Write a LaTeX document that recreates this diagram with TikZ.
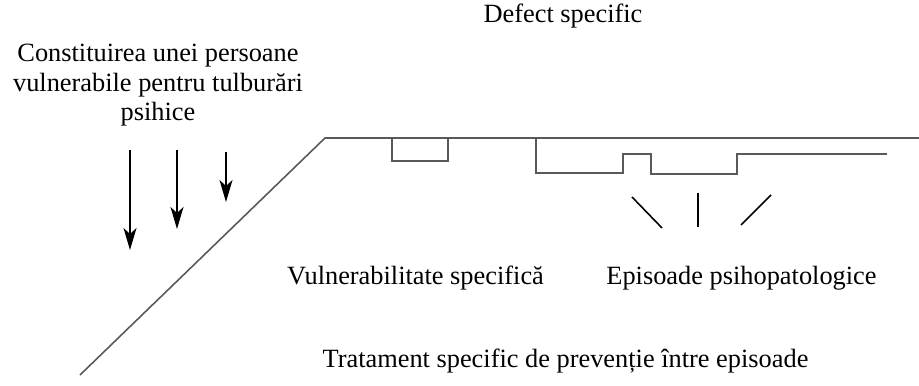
\documentclass[tikz,border=0pt]{standalone}
\usepackage{fontspec}
\setmainfont{Liberation Serif}
\usetikzlibrary{arrows.meta}
\definecolor{linegray}{rgb}{0.35,0.35,0.35}
\tikzset{lbl/.style={font=\fontsize{15}{16.8}\selectfont, inner sep=0pt}}

\begin{document}
\begin{tikzpicture}
\useasboundingbox (0,0) rectangle (18.38,7.72);

% specific vulnerability and episodes
\draw[linegray, line width=0.9pt] (1.60,0.22) -- (6.50,4.96) -- (18.38,4.96);
\draw[linegray, line width=0.9pt] (7.84,4.96) rectangle (8.96,4.50);
\draw[linegray, line width=0.9pt] (10.72,4.96) -- (10.72,4.26) -- (12.46,4.26) -- (12.46,4.64)
  -- (13.02,4.64) -- (13.02,4.24) -- (14.74,4.24) -- (14.74,4.64) -- (17.74,4.64);

% factors
\draw[-{Stealth[length=4.4mm,width=2.6mm,inset=1.2mm]}, line width=0.8pt] (2.60,4.72) -- (2.60,2.72);
\draw[-{Stealth[length=4.4mm,width=2.6mm,inset=1.2mm]}, line width=0.8pt] (3.54,4.72) -- (3.54,3.14);
\draw[-{Stealth[length=4.4mm,width=2.6mm,inset=1.2mm]}, line width=0.8pt] (4.52,4.68) -- (4.52,3.68);

% pointers to the episodes
\draw[line width=0.9pt] (12.64,3.78) -- (13.24,3.16);
\draw[line width=0.9pt] (13.96,3.86) -- (13.96,3.18);
\draw[line width=0.9pt] (15.42,3.82) -- (14.82,3.22);

\node[lbl, anchor=base] (defect) at (11.26,7.26) {Defect specific};
\node[lbl, anchor=base, align=center] (constituire) at (3.16,5.30)
  {Constituirea unei persoane\\ vulnerabile pentru tulburări\\ psihice};
\node[lbl, anchor=base] (vuln) at (8.31,2.02) {Vulnerabilitate specifică};
\node[lbl, anchor=base] (episoade) at (14.83,2.02) {Episoade psihopatologice};
\node[lbl, anchor=base] (tratament) at (11.31,0.36) {Tratament specific de prevenție între episoade};
\end{tikzpicture}
\end{document}
